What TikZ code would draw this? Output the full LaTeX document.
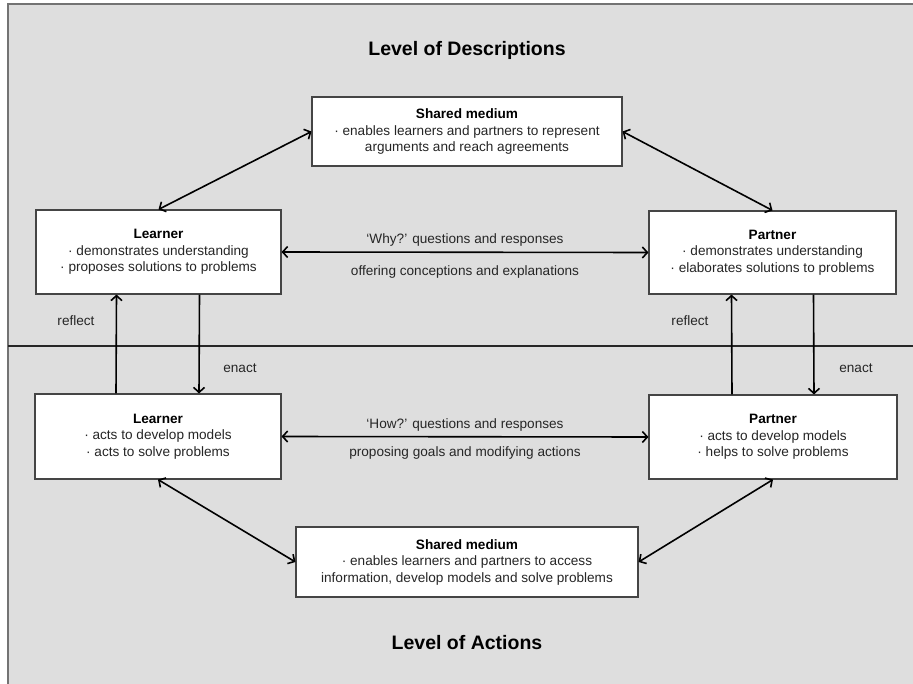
\documentclass[tikz,border=0pt]{standalone}
\usepackage{fontspec}
\setmainfont{Liberation Sans}
\usetikzlibrary{arrows.meta,shadows}
\definecolor{panelgray}{HTML}{DEDEDE}
\definecolor{boxline}{HTML}{454545}
\definecolor{boxtext}{HTML}{262626}
\begin{document}
\begin{tikzpicture}[x=1pt, y=-1pt,
	box/.style={draw=boxline, fill=white, line width=1.1pt, align=center, text=boxtext, inner sep=0pt,
		font=\fontsize{13.6}{16.5}\selectfont,
		drop shadow={shadow xshift=1.2pt, shadow yshift=-1.2pt, opacity=0.35, fill=black}},
	link/.style={line width=1.6pt, -{Straight Barb[length=5pt,width=11pt]}},
	twoway/.style={line width=1.6pt, {Straight Barb[length=5pt,width=11pt]}-{Straight Barb[length=5pt,width=11pt]}},
	lbl/.style={font=\fontsize{13.6}{16}\selectfont, text=boxtext},
	level/.style={font=\bfseries\fontsize{19.5}{22}\selectfont}]
		\useasboundingbox (0,0) rectangle (913,684);
		% Panel and divider
		\fill[panelgray] (8,4) rectangle (913,684);
		\draw[gray!90!black, line width=2pt] (8,684) -- (8,4) -- (913,4);
		\draw[black!85, line width=1.3pt] (8,346) -- (913,346);
		% Level titles
		\node[level] (lvldesc) at (467,50) {Level of Descriptions};
		\node[level] (lvlact) at (467,643) {Level of Actions};
		% Boxes, level of descriptions
		\node[box, minimum width=310, minimum height=69] (mediumD) at (467,131.5) {{\bfseries\color{black}Shared medium}\\· enables learners and partners to represent\\arguments and reach agreements};
		\node[box, minimum width=245, minimum height=84] (learnerD) at (158.5,252) {{\bfseries\color{black}Learner}\\· demonstrates understanding\\· proposes solutions to problems};
		\node[box, minimum width=247, minimum height=83] (partnerD) at (772.5,252.5) {{\bfseries\color{black}Partner}\\· demonstrates understanding\\· elaborates solutions to problems};
		% Boxes, level of actions
		\node[box, minimum width=246, minimum height=85] (learnerA) at (158,436.5) {{\bfseries\color{black}Learner}\\· acts to develop models\\· acts to solve problems};
		\node[box, minimum width=248, minimum height=84] (partnerA) at (773,437) {{\bfseries\color{black}Partner}\\· acts to develop models\\· helps to solve problems};
		\node[box, minimum width=342, minimum height=70] (mediumA) at (467,562) {{\bfseries\color{black}Shared medium}\\· enables learners and partners to access\\information, develop models and solve problems};
		% Links to the shared media
		\draw[twoway] (learnerD.north) -- (mediumD.west);
		\draw[twoway] (mediumD.east) -- (partnerD.north);
		\draw[twoway] (learnerA.south) -- (mediumA.west);
		\draw[twoway] (mediumA.east) -- (partnerA.south);
		% Dialogue between learner and partner
		\draw[twoway] (learnerD.east) -- (partnerD.west)
			node[lbl, midway, yshift=12pt] {`Why?' questions and responses}
			node[lbl, midway, yshift=-20pt] {offering conceptions and explanations};
		\draw[twoway] (learnerA.east) -- (partnerA.west)
			node[lbl, midway, yshift=12pt] {`How?' questions and responses}
			node[lbl, midway, yshift=-16pt] {proposing goals and modifying actions};
		% Reflect and enact
		\draw[link] ([xshift=-42pt]learnerA.north) -- ([xshift=-42pt]learnerD.south);
		\draw[link] ([xshift=41pt]learnerD.south) -- ([xshift=41pt]learnerA.north);
		\draw[link] ([xshift=-41pt]partnerA.north) -- ([xshift=-41pt]partnerD.south);
		\draw[link] ([xshift=41pt]partnerD.south) -- ([xshift=41pt]partnerA.north);
		\node[lbl] (reflectL) at (76,321) {reflect};
		\node[lbl] (enactL) at (240,368) {enact};
		\node[lbl] (reflectR) at (690,321) {reflect};
		\node[lbl] (enactR) at (856,368) {enact};
	\end{tikzpicture}
\end{document}
